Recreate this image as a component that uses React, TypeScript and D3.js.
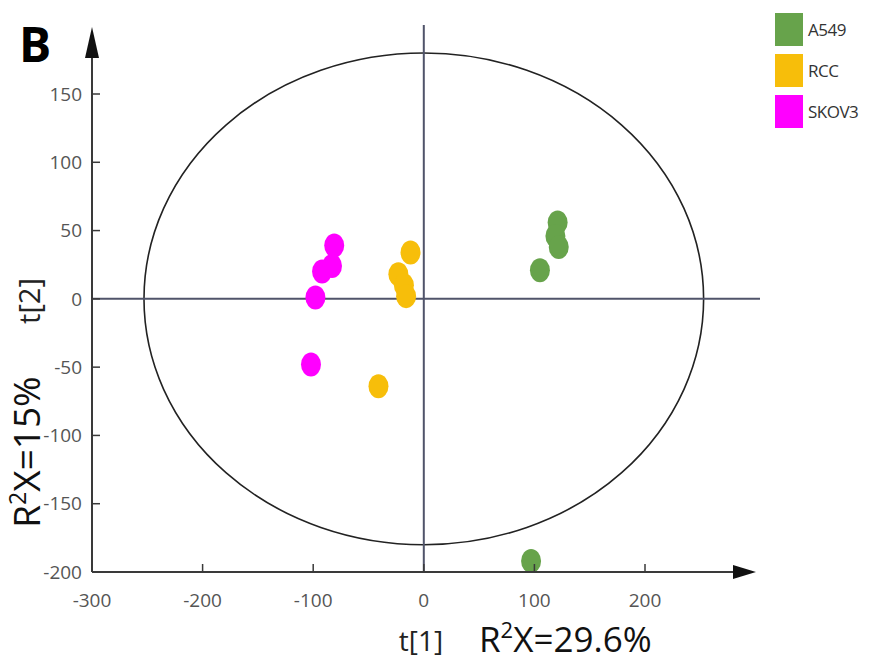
import React from 'react';
import * as d3 from 'd3';

const groups = ['A549', 'RCC', 'SKOV3'];
const colors = ['#67a34b', '#f7be0a', '#ff00ff'];

const a549X = [121, 119, 122, 105, 97];
const a549Y = [56, 46, 38, 21, -192];
const rccX = [-12, -23, -18, -16, -41];
const rccY = [34, 18, 10, 2, -64];
const skovX = [-81, -83, -92, -98, -102];
const skovY = [39, 24, 20, 1, -48];

const xTicks = [-300, -200, -100, 0, 100, 200];
const yTicks = [150, 100, 50, 0, -50, -100, -150, -200];

// Hotelling T2 ellipse half-axes (in score units)
const ellipseRx = 253;
const ellipseRy = 180;

const W = 875;
const H = 664;

export default function App() {
  const x = d3.scaleLinear().domain([-300, 200]).range([92, 645]);
  const y = d3.scaleLinear().domain([-200, 150]).range([572, 94]);

  const series = [
    { xs: a549X, ys: a549Y },
    { xs: rccX, ys: rccY },
    { xs: skovX, ys: skovY },
  ];

  const axisCol = '#3a3a3a';
  const crossCol = '#50546a';
  const font = "'Open Sans', 'DejaVu Sans', sans-serif";

  return (
    <svg width={W} height={H} style={{ position: 'absolute', left: 0, top: 0, background: 'white' }}>
      {/* confidence ellipse */}
      <ellipse
        cx={x(0)}
        cy={y(0)}
        rx={x(ellipseRx) - x(0)}
        ry={y(0) - y(ellipseRy)}
        fill="none"
        stroke="#222"
        strokeWidth={1.6}
      />
      {/* crosshair */}
      <line x1={x(-300)} x2={760} y1={y(0)} y2={y(0)} stroke={crossCol} strokeWidth={2} />
      <line x1={x(0)} x2={x(0)} y1={25} y2={y(-200)} stroke={crossCol} strokeWidth={2} />

      {/* points */}
      {series.map((s, i) =>
        s.xs.map((v, j) => (
          <ellipse key={i + '-' + j} cx={x(v)} cy={y(s.ys[j])} rx={10} ry={12} fill={colors[i]} />
        ))
      )}

      {/* y axis */}
      <line x1={x(-300)} x2={x(-300)} y1={50} y2={y(-200)} stroke={axisCol} strokeWidth={2} />
      <path d={`M${x(-300)},27 L${x(-300) - 7},58 L${x(-300) + 7},58 Z`} fill="#111" />
      {yTicks.map((t) => (
        <g key={t}>
          <line x1={x(-300)} x2={x(-300) + 8} y1={y(t)} y2={y(t)} stroke={axisCol} strokeWidth={1.5} />
          <text
            x={x(-300) - 10}
            y={y(t)}
            dy="0.35em"
            textAnchor="end"
            fontFamily={font}
            fontSize={19}
            fill="#555"
          >
            {t}
          </text>
        </g>
      ))}

      {/* x axis */}
      <line x1={x(-300)} x2={740} y1={y(-200)} y2={y(-200)} stroke={axisCol} strokeWidth={2} />
      <path d={`M756,${y(-200)} L733,${y(-200) - 7} L733,${y(-200) + 7} Z`} fill="#111" />
      {xTicks.map((t) => (
        <g key={t}>
          <line x1={x(t)} x2={x(t)} y1={y(-200)} y2={y(-200) - 8} stroke={axisCol} strokeWidth={1.5} />
          <text
            x={x(t)}
            y={y(-200) + 35}
            textAnchor="middle"
            fontFamily={font}
            fontSize={19}
            fill="#555"
          >
            {t}
          </text>
        </g>
      ))}

      {/* axis titles */}
      <text x={421} y={651} textAnchor="middle" fontFamily={font} fontSize={28} fill="#222">
        t[1]
      </text>
      <text x={479} y={652} fontFamily={font} fontSize={35} fill="#111">
        R<tspan dy={-14} fontSize={22}>2</tspan>
        <tspan dy={14}>X=29.6%</tspan>
      </text>
      <text
        transform={`translate(40,301) rotate(-90)`}
        textAnchor="middle"
        fontFamily={font}
        fontSize={29}
        fill="#222"
      >
        t[2]
      </text>
      <text
        transform={`translate(40,452) rotate(-90)`}
        textAnchor="middle"
        fontFamily={font}
        fontSize={37}
        fill="#111"
      >
        R<tspan dy={-14} fontSize={23}>2</tspan>
        <tspan dy={14}>X=15%</tspan>
      </text>

      {/* panel letter */}
      <text x={19} y={62} fontFamily={font} fontWeight="bold" fontSize={48} fill="#000">
        B
      </text>

      {/* legend */}
      {groups.map((g, i) => (
        <g key={g} transform={`translate(775,${13 + i * 41})`}>
          <rect width={28} height={33} fill={colors[i]} />
          <text x={33} y={17} dy="0.35em" fontFamily={font} fontSize={17} letterSpacing={-0.5} fill="#333">
            {g}
          </text>
        </g>
      ))}
    </svg>
  );
}
